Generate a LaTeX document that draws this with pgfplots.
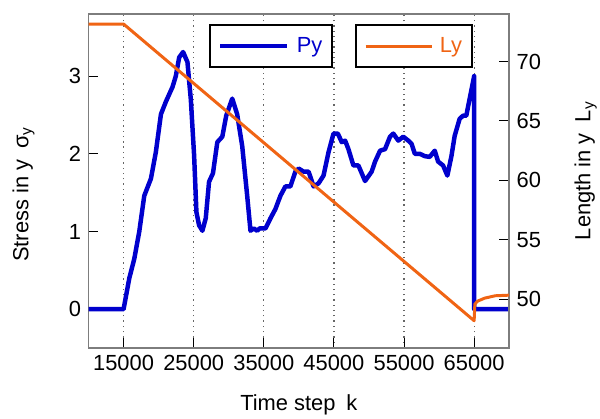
\documentclass[border=0pt]{standalone}
\usepackage{fontspec}
\setmainfont{Liberation Sans}
\usepackage{pgfplots}
\pgfplotsset{compat=1.18}

\definecolor{pyblue}{RGB}{0,0,205}
\definecolor{lyorange}{RGB}{240,100,20}
\definecolor{framegray}{RGB}{125,125,125}

\pgfplotsset{
  common/.style={
    width=423pt, height=336pt, scale only axis,
    xmin=10000, xmax=70000,
    font=\fontsize{22}{26}\selectfont,
    /pgf/number format/assume math mode=true,
    /pgf/number format/1000 sep={},
    scaled x ticks=false,
    tick align=inside,
    major tick length=10pt,
    tick style={black, line width=1pt},
    axis line style={framegray, line width=1.5pt},
    legend image code/.code={\draw[##1] (0pt,0pt) -- (67pt,0pt);},
  },
  boxleg/.style={
    at={(#1,0.97)}, anchor=north west,
    draw=black, line width=2pt,
    inner xsep=8pt, inner ysep=11pt,
    font=\fontsize{22}{26}\selectfont,
  },
}

\begin{document}
\begin{tikzpicture}
\begin{axis}[
  common,
  name=ax,
  ymin=-0.5, ymax=3.8,
  ytick={0,1,2,3},
  xtick={15000,25000,...,65000},
  xtick pos=bottom, ytick pos=left,
  xticklabel style={yshift=-4pt},
  yticklabel style={xshift=-4pt},
  xmajorgrids,
  grid style={black!60, line width=1.3pt, dash pattern=on 1.3pt off 4pt},
  xlabel={Time step\enspace k},
  xlabel style={at={(axis description cs:0.5,-0.13)}, anchor=north},
  ylabel={Stress in y\enspace σ\textsubscript{y}},
  ylabel style={at={(axis description cs:-0.189,0.46)}, anchor=north, rotate=0},
  legend style={boxleg=0.286, text=pyblue},
]
\addplot[pyblue, line width=4.5pt, line join=round] coordinates {
  (10000,0) (15000,0) (15820,0.40) (16530,0.65) (17240,1.00) (17950,1.46)
  (18900,1.68) (19600,2.02) (20330,2.51) (21030,2.67) (21980,2.86) (22450,3.00)
  (22930,3.24) (23490,3.31) (24110,3.18) (24590,2.70) (25060,1.98) (25390,1.25)
  (25770,1.08) (26240,1.01) (26720,1.17) (27190,1.64) (27750,1.75) (28370,2.15)
  (29080,2.22) (29640,2.49) (30500,2.71) (31200,2.51) (31920,2.10) (32630,1.46)
  (33100,1.01) (33570,1.04) (34050,1.01) (34400,1.04) (35240,1.04) (35950,1.17)
  (36660,1.29) (37370,1.46) (38080,1.58) (38790,1.58) (39500,1.77) (39970,1.81)
  (40680,1.77) (41390,1.77) (42100,1.58) (42810,1.62) (43520,1.72) (44230,2.02)
  (44940,2.26) (45560,2.26) (46120,2.15) (46600,2.17) (47070,2.06) (47780,1.85)
  (48490,1.85) (49440,1.65) (50380,1.77) (50870,1.90) (51580,2.04) (52290,2.06)
  (53000,2.22) (53470,2.26) (54180,2.17) (54890,2.22) (55600,2.17) (56070,2.13)
  (56540,2.00) (57250,2.00) (57950,1.97) (58660,1.96) (59380,2.04) (59860,1.90)
  (60570,1.85) (61180,1.72) (61760,1.97) (62220,2.23) (62930,2.45) (63410,2.49)
  (63880,2.49) (64360,2.71) (64830,2.92) (65000,3.00) (65010,0) (70000,0)
};
\addlegendentry{\hspace{6pt}Py\hspace{2pt}}
\end{axis}

\begin{axis}[
  common,
  ymin=45.9, ymax=74,
  ytick={50,55,60,65,70},
  axis y line*=right, axis x line=none,
  yticklabel style={xshift=4pt},
  ylabel={Length in y\enspace L\textsubscript{y}},
  ylabel style={at={(axis description cs:1.147,0.53)}, anchor=north, rotate=0},
  legend style={boxleg=0.634, text=lyorange},
]
\addplot[lyorange, line width=3pt, line join=round] coordinates {
  (10000,73.15) (15000,73.15) (65000,48.2) (65100,49.6) (65500,49.85)
  (66500,50.1) (68000,50.3) (70000,50.35)
};
\addlegendentry{\hspace{4pt}Ly\hspace{2pt}}
\end{axis}
\path ([shift={(-89pt,-66pt)}]ax.south west) rectangle ([shift={(88pt,14pt)}]ax.north east);
\end{tikzpicture}
\end{document}
